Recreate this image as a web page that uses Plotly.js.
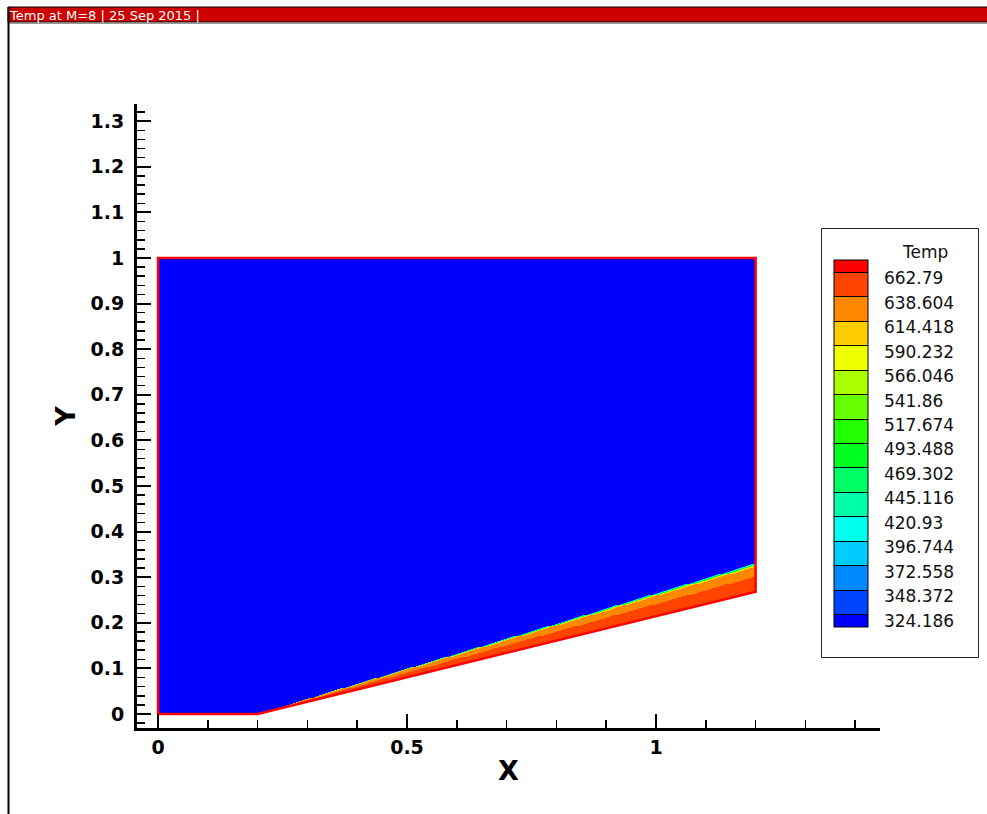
<!DOCTYPE html>
<html><head><meta charset="utf-8">
<script src="https://cdn.plot.ly/plotly-3.0.1.min.js"></script>
<style>html,body{margin:0;padding:0;background:#fff;} #chart{width:987px;height:814px;}</style>
</head><body><div id="chart"></div>
<script>
// ---------------- data ----------------
const levels = [324.186, 348.372, 372.558, 396.744, 420.93, 445.116, 469.302, 493.488, 517.674, 541.86, 566.046, 590.232, 614.418, 638.604, 662.79];
const levelLabels = ['324.186', '348.372', '372.558', '396.744', '420.93', '445.116', '469.302', '493.488', '517.674', '541.86', '566.046', '590.232', '614.418', '638.604', '662.79'];
// computational domain outline
const boundaryX = [0, 0.2, 1.2, 1.2, 0, 0];
const boundaryY = [0, 0, 0.268, 1, 1, 0];
// wedge surface and shock line
const wallX = [0.2, 1.2];
const wallY = [0, 0.268];
const shockX = [0.2, 1.2];
const shockY = [0, 0.331];
// temperature across the shock layer (0 = wall, 1 = shock)
const profileEta = [0, 0.53, 0.87, 0.90, 0.95, 1.0];
const profileTemp = [664, 638.6, 614.4, 590, 470, 330];
const freestreamTemp = 318;

// ---------------- styles ----------------
const bandColors = ['#0000FF', '#0044FF', '#0088FF', '#00CCFF', '#00FFEE', '#00FFAA', '#00FF66', '#00FF22',
  '#22FF00', '#66FF00', '#AAFF00', '#EEFF00', '#FFCC00', '#FF8800', '#FF4400', '#FF0000'];
const W = 987, H = 814, ML = 137, MR = 107, MT = 104, MB = 86;
const PW = W - ML - MR, PH = H - MT - MB;
const fx = px => (px - ML) / PW;
const fy = py => (H - MB - py) / PH;

// ---------------- build field table ----------------
function interpProfile(eta) {
  for (let k = 1; k < profileEta.length; k++) {
    if (eta <= profileEta[k]) {
      const t = (eta - profileEta[k - 1]) / (profileEta[k] - profileEta[k - 1]);
      return profileTemp[k - 1] + t * (profileTemp[k] - profileTemp[k - 1]);
    }
  }
  return profileTemp[profileTemp.length - 1];
}
const dx = 0.002, dy = 0.002, nx = 600, ny = 500, x0 = 0.001, y0 = 0.001;
const z = [];
for (let j = 0; j < ny; j++) {
  const y = y0 + j * dy;
  const row = [];
  for (let i = 0; i < nx; i++) {
    const x = x0 + i * dx;
    let v;
    if (x <= wallX[0]) v = freestreamTemp;
    else {
      const t = (x - wallX[0]) / (wallX[1] - wallX[0]);
      const yw = wallY[0] + t * (wallY[1] - wallY[0]);
      const ys = shockY[0] + t * (shockY[1] - shockY[0]);
      if (y < yw) v = null;
      else {
        const eta = (y - yw) / (ys - yw);
        v = eta >= 1 ? freestreamTemp : interpProfile(eta);
      }
    }
    row.push(v);
  }
  z.push(row);
}

const step = levels[1] - levels[0];
const zmin = levels[0] - step / 2, zmax = levels[levels.length - 1] + step / 2;
const colorscale = [[0, bandColors[0]]];
levels.forEach((lv, k) => {
  const b = (lv - zmin) / (zmax - zmin);
  colorscale.push([b, bandColors[k]]);
  colorscale.push([b, bandColors[k + 1]]);
});
colorscale.push([1, bandColors[bandColors.length - 1]]);
const clearScale = [[0, 'rgba(0,0,0,0)'], [1, 'rgba(0,0,0,0)']];

const cbBase = {
  x: fx(834), xanchor: 'left', xpad: 0,
  y: fy(260), yanchor: 'top', ypad: 0,
  len: 367, lenmode: 'pixels', thickness: 34, thicknessmode: 'pixels',
  borderwidth: 0, bgcolor: 'rgba(0,0,0,0)',
  tickmode: 'array', tickvals: levels, ticktext: levelLabels
};

const traces = [
  {
    type: 'heatmap', z: z, x0: x0, dx: dx, y0: y0, dy: dy,
    zmin: zmin, zmax: zmax, zauto: false, zsmooth: false,
    colorscale: colorscale, hoverinfo: 'skip',
    colorbar: Object.assign({}, cbBase, {
      outlinewidth: 1, outlinecolor: '#000',
      ticks: 'inside', ticklen: 34, tickwidth: 1, tickcolor: '#000', showticklabels: false
    })
  },
  {
    // carries the legend labels only (transparent bar, same scale)
    type: 'heatmap', z: [[freestreamTemp]], x: [-5], y: [-5],
    zmin: zmin, zmax: zmax, zauto: false, colorscale: clearScale, hoverinfo: 'skip',
    colorbar: Object.assign({}, cbBase, {
      y: fy(266), outlinewidth: 0,
      ticks: 'outside', ticklen: 13, tickcolor: 'rgba(0,0,0,0)',
      tickfont: {family: 'DejaVu Sans', size: 17, color: '#111'}
    })
  },
  {
    type: 'scatter', mode: 'lines', x: boundaryX, y: boundaryY,
    line: {color: '#FF0000', width: 2.5}, hoverinfo: 'skip', showlegend: false
  }
];

const axFont = {family: 'DejaVu Sans', size: 19, color: '#000', weight: 'bold'};
const layout = {
  width: W, height: H,
  margin: {l: ML, r: MR, t: MT, b: MB, autoexpand: false},
  paper_bgcolor: '#fff', plot_bgcolor: '#fff',
  showlegend: false,
  title: {
    text: 'Temp at M=8 | 25 Sep 2015 |', font: {family: 'DejaVu Sans', size: 13, color: '#fff'},
    xref: 'container', yref: 'container', x: 10 / W, xanchor: 'left', y: 1 - 15 / H, yanchor: 'middle', pad: {t: 0, b: 0, l: 0, r: 0}
  },
  xaxis: {
    range: [-0.0422, 1.4498], showgrid: false, zeroline: false,
    showline: true, linecolor: '#000', linewidth: 3,
    tick0: 0, dtick: 0.5, ticks: 'inside', ticklen: 14, tickwidth: 2, tickcolor: '#000',
    minor: {dtick: 0.1, ticks: 'inside', ticklen: 8, tickwidth: 1.5, tickcolor: '#000'},
    tickfont: axFont,
    title: {text: 'X', font: {family: 'DejaVu Sans', size: 27, color: '#000', weight: 'bold'}, standoff: 5}
  },
  yaxis: {
    range: [-0.0307, 1.3377], showgrid: false, zeroline: false,
    showline: true, linecolor: '#000', linewidth: 3,
    tick0: 0, dtick: 0.1, ticks: 'inside', ticklen: 14, tickwidth: 2, tickcolor: '#000',
    minor: {dtick: 0.02, ticks: 'inside', ticklen: 8, tickwidth: 1.5, tickcolor: '#000'},
    tickfont: axFont, ticklabelstandoff: 6,
    title: {text: 'Y', font: {family: 'DejaVu Sans', size: 27, color: '#000', weight: 'bold'}, standoff: 8}
  },
  shapes: [
    // header bar
    {type: 'rect', xref: 'paper', yref: 'paper', x0: fx(8), x1: fx(990), y0: fy(7), y1: fy(22),
     fillcolor: '#CC0000', line: {color: '#000', width: 1}, layer: 'below'},
    {type: 'line', xref: 'paper', yref: 'paper', x0: fx(8), x1: fx(990), y0: fy(23.5), y1: fy(23.5),
     line: {color: '#999', width: 1}},
    // frame left edge
    {type: 'line', xref: 'paper', yref: 'paper', x0: fx(8.5), x1: fx(8.5), y0: fy(7), y1: fy(815),
     line: {color: '#000', width: 2}},
    // legend box
    {type: 'rect', xref: 'paper', yref: 'paper', x0: fx(821.5), x1: fx(978.5), y0: fy(228.5), y1: fy(657.5),
     fillcolor: 'rgba(0,0,0,0)', line: {color: '#222', width: 1}}
  ],
  annotations: [
    {text: 'Temp', xref: 'paper', yref: 'paper', x: fx(925), y: fy(252), xanchor: 'center', yanchor: 'middle',
     showarrow: false, font: {family: 'DejaVu Sans', size: 17, color: '#111'}}
  ]
};

Plotly.newPlot('chart', traces, layout, {displayModeBar: false, staticPlot: true});
</script>
</body></html>
